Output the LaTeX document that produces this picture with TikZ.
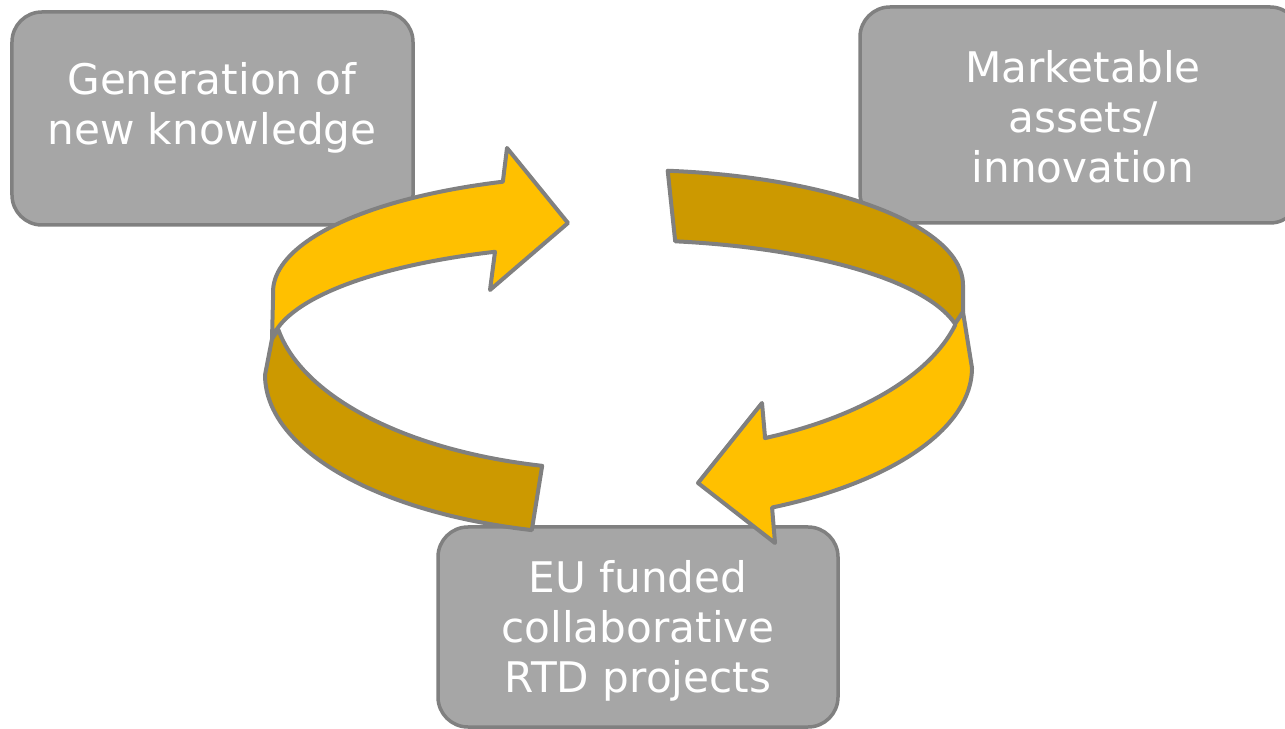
\documentclass[tikz,border=0pt]{standalone}
\usepackage{fontspec}
\setmainfont{DejaVu Sans}
\definecolor{boxgray}{HTML}{A6A6A6}
\definecolor{edgegray}{HTML}{808080}
\definecolor{gold}{HTML}{FFC000}
\definecolor{darkgold}{HTML}{CC9900}
\tikzset{
  stage/.style={draw=edgegray, fill=boxgray, line width=0.7mm, rounded corners=6mm, inner sep=0pt},
  stagetext/.style={anchor=north, align=center, text=white, inner sep=0pt,
    font=\fontsize{24}{28.5}\selectfont},
  band/.style={draw=edgegray, line width=0.8mm, line join=round},
  rim/.style={samples=50}
}
\begin{document}
\begin{tikzpicture}[x=0.2mm, y=-0.2mm]
  \useasboundingbox (0,0) rectangle (1285,729);
  % the three stages
  \node[stage, minimum width=80.2mm, minimum height=42.6mm] (gen) at (212.5,118.5) {};
  \node[stagetext] (gen text) at (212,62) {Generation of\\new knowledge};
  \node[stage, minimum width=88mm, minimum height=43.2mm] (market) at (1080,115) {};
  \node[stagetext] (market text) at (1083,50) {Marketable\\assets/\\innovation};
  \node[stage, minimum width=80mm, minimum height=40mm] (rtd) at (638,627) {};
  \node[stagetext] (rtd text) at (638,560) {EU funded\\collaborative\\RTD projects};
  % left arrow: near half (dark), then far half with head
  \filldraw[band, fill=darkgold] (272,339)
    -- plot[rim, domain=170:102.7] ({618+345*cos(\x)}, {300+170*sin(\x)})
    -- plot[rim, domain=104.2:180] ({618.5+353.5*cos(\x)}, {375+160*sin(\x)})
    -- cycle;
  \filldraw[band, fill=gold] (272,339) -- (273,300)
    -- plot[rim, domain=180:250.5] ({618+345*cos(\x)}, {292+117*sin(\x)})
    -- (507,148) -- (568,223) -- (490,290)
    -- plot[rim, domain=249.3:186.25] ({618+348*cos(\x)}, {350+105*sin(\x)})
    -- cycle;
  % right arrow: far half (dark), then near half with head
  \filldraw[band, fill=darkgold]
    plot[rim, domain=276.5:360] ({630+333*cos(\x)}, {285+115*sin(\x)})
    -- (963,312)
    -- plot[rim, domain=348.5:279] ({622+340*cos(\x)}, {345+105*sin(\x)})
    -- cycle;
  \filldraw[band, fill=gold] (955,324) -- (963,312)
    -- plot[rim, domain=0:64.2] ({618+354*cos(\x)}, {368+155*sin(\x)})
    -- (775,543) -- (698,483) -- (762,403) -- (765,437)
    -- plot[rim, domain=65.7:13.9] ({625+340*cos(\x)}, {285+168*sin(\x)})
    -- cycle;
\end{tikzpicture}
\end{document}
